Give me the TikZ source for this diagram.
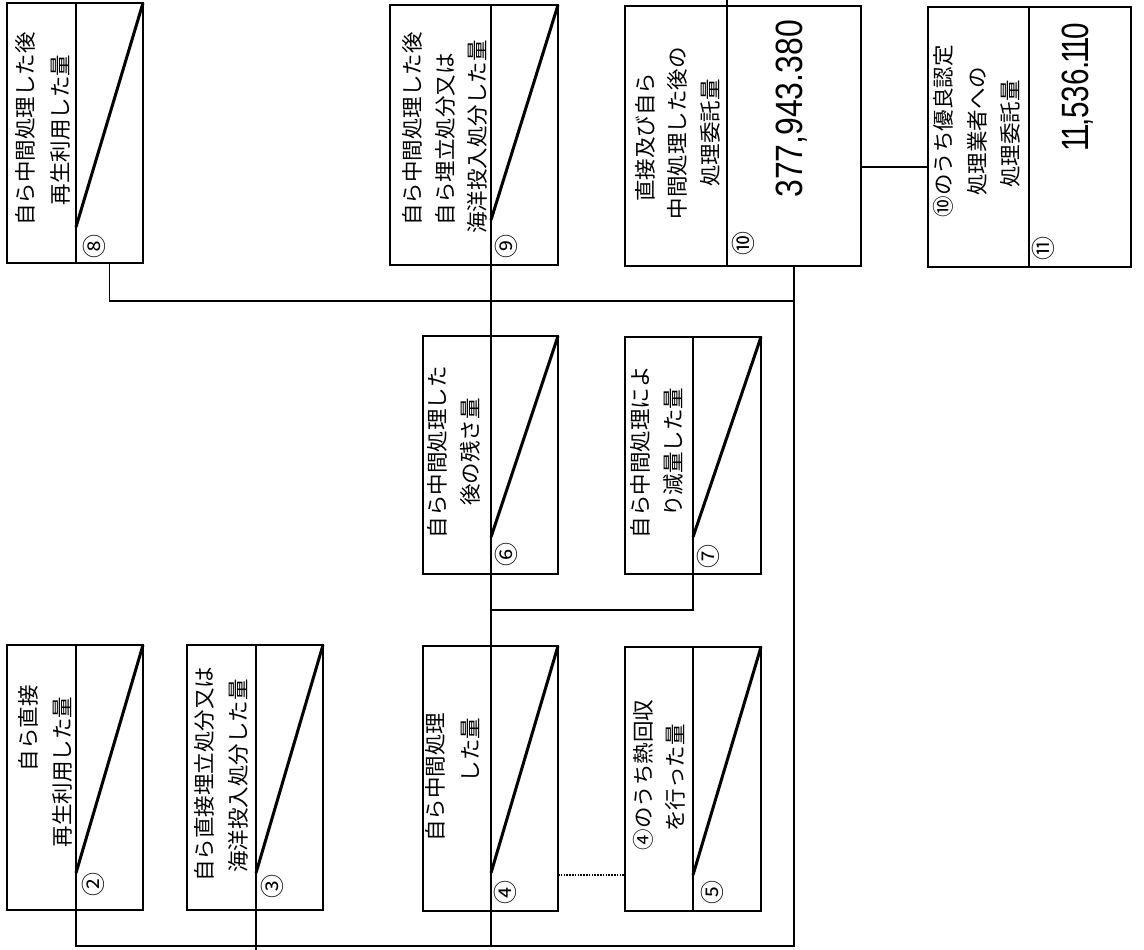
\documentclass[tikz,border=0pt]{standalone}
\usepackage{fontspec}
\usepackage{graphicx}
\newfontfamily\jpf{Noto Sans CJK JP}
\newfontfamily\numf{Liberation Sans}
\newcommand\nar{\makebox[0.36em][c]{1}}
\newcommand\mkbox[6]{%
  \node[part, minimum width={(#3-#2)*1pt}, minimum height={(#6-#5)*1pt}] (#1l) at ({(#2+#3)/2},{(#5+#6)/2}) {};
  \node[part, minimum width={(#4-#3)*1pt}, minimum height={(#6-#5)*1pt}] (#1r) at ({(#3+#4)/2},{(#5+#6)/2}) {};}
\tikzset{
  part/.style={draw=black, line width=1.4pt, inner sep=0pt, outer sep=0pt, rectangle},
  diag/.style={line width=3pt},
  conn/.style={line width=1.3pt},
  dotconn/.style={line width=1.5pt, dash pattern=on 1.5pt off 1.3pt},
  jt/.style={font=\jpf\fontsize{21.5}{21.5}\selectfont, rotate=90, inner sep=0pt},
  cn/.style={font=\jpf\fontsize{24}{24}\selectfont, rotate=90, inner sep=0pt},
  val/.style={font=\numf\fontsize{38}{38}\selectfont, rotate=90, inner sep=0pt, anchor=east}
}
\begin{document}
\begin{tikzpicture}[x=1pt,y=-1pt]
\fill[white] (0,0) rectangle (1144,950);
\useasboundingbox (0,0) rectangle (1144,950);
% boxes: name, x1, xdivider, x2, y1, y2
\mkbox{b8}{7}{76}{143}{3}{263}
\mkbox{b2}{7}{76}{143}{645}{910}
\mkbox{b3}{187}{256}{323}{645}{910}
\mkbox{b9}{390}{491}{558}{5}{265}
\mkbox{b6}{423}{491}{558}{336}{574}
\mkbox{b7}{625}{693}{761}{337}{574}
\mkbox{b4}{423}{491}{558}{646}{911}
\mkbox{b5}{625}{693}{761}{647}{911}
\mkbox{b10}{625}{727}{861}{6}{266}
\mkbox{b11}{928}{1029}{1131}{7}{267}
% diagonals
\draw[diag] ([yshift=36pt]b8r.south west) -- (b8r.north east);
\draw[diag] ([yshift=37pt]b2r.south west) -- (b2r.north east);
\draw[diag] ([yshift=37pt]b3r.south west) -- (b3r.north east);
\draw[diag] ([yshift=45pt]b9r.south west) -- (b9r.north east);
\draw[diag] ([yshift=37pt]b6r.south west) -- (b6r.north east);
\draw[diag] ([yshift=37pt]b7r.south west) -- (b7r.north east);
\draw[diag] ([yshift=38pt]b4r.south west) -- (b4r.north east);
\draw[diag] ([yshift=36pt]b5r.south west) -- (b5r.north east);
% connectors
\coordinate (ybot) at (0,946);
\coordinate (ymid) at (0,301);
\coordinate (ytop) at (0,0);
\coordinate (yend) at (0,950);
\coordinate (ylow) at (0,610);
\coordinate (ydot) at (0,875);
\coordinate (ylink) at (0,167);
\draw[conn] (b8r.south) |- (b10r.south |- ymid);
\draw[conn] (b10r.south) -- (b10r.south |- ybot) -| (b2r.south west);
\draw[conn] (b3r.south west) -- (b3r.south west |- yend);
\draw[conn] (b9r.south west) -- (b6r.north west);
\draw[conn] (b6r.south west) -- (b4r.north west);
\draw[conn] (b4r.south west) -- (b4r.south west |- ybot);
\draw[conn] (b7r.south west) |- (b6r.south west |- ylow);
\draw[dotconn] (b4r.east |- ydot) -- (b5l.west |- ydot);
\draw[conn] (b10r.east |- ylink) -- (b11l.west |- ylink);
\draw[conn] (b10l.north east) -- (b10l.north east |- ytop);
% texts
\node[jt] (t8a) at (25,129) {自ら中間処理した後};
\node[jt] (t8b) at (60,130) {再生利用した量};
\node[jt] (t2a) at (28,728) {自ら直接};
\node[jt] (t2b) at (62,772) {再生利用した量};
\node[jt] (t3a) at (204,774) {自ら直接埋立処分又は};
\node[jt] (t3b) at (238,776) {海洋投入処分した量};
\node[jt] (t9a) at (412,129) {自ら中間処理した後};
\node[jt] (t9b) at (445,139) {自ら埋立処分又は};
\node[jt] (t9c) at (477,137) {海洋投入処分した量};
\node[jt] (t6a) at (437,452) {自ら中間処理した};
\node[jt] (t6b) at (470,452) {後の残さ量};
\node[jt] (t7a) at (640,452) {自ら中間処理によ};
\node[jt] (t7b) at (673,452) {り減量した量};
\node[jt] (t4a) at (435,777) {自ら中間処理};
\node[jt] (t4b) at (470,750) {した量};
\node[jt] (t5a) at (643,775) {④のうち熱回収};
\node[jt] (t5b) at (675,778) {を行った量};
\node[jt] (t10a) at (645,137) {直接及び自ら};
\node[jt] (t10b) at (677,133) {中間処理した後の};
\node[jt] (t10c) at (710,133) {処理委託量};
\node[jt] (t11a) at (943,131) {⑩のうち優良認定};
\node[jt] (t11b) at (977,131) {処理業者への};
\node[jt] (t11c) at (1010,134) {処理委託量};
% circled numbers
\node[cn] (n8) at (94,246) {⑧};
\node[cn] (n2) at (93,884) {②};
\node[cn] (n3) at (272,886) {③};
\node[cn] (n9) at (506,246) {⑨};
\node[cn] (n6) at (506,554) {⑥};
\node[cn] (n7) at (708,556) {⑦};
\node[cn] (n4) at (505,892) {④};
\node[cn] (n5) at (712,892) {⑤};
\node[cn] (n10) at (743,243) {⑩};
\node[cn] (n11) at (1043,248) {⑪};
% values
\node[val] (v10) at (792,20) {\scalebox{0.84}[1]{377,943.380}};
\node[val] (v11) at (1078,23) {\scalebox{0.78}[1]{\nar\nar,536.\nar\nar0}};
\end{tikzpicture}
\end{document}
